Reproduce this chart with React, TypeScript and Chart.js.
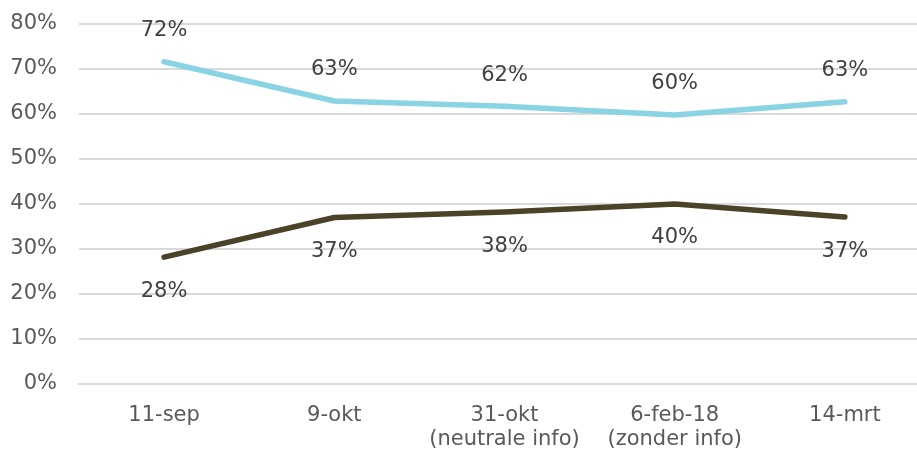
import React, { useEffect, useRef } from "react";
import { Chart, registerables } from "chart.js";

Chart.register(...registerables);

const categories: (string | string[])[] = [
  "11-sep",
  "9-okt",
  ["31-okt", "(neutrale info)"],
  ["6-feb-18", "(zonder info)"],
  "14-mrt",
];
const seriesBlue = [71.6, 62.9, 61.7, 59.8, 62.7];
const seriesDark = [28.2, 37.0, 38.2, 40.0, 37.1];
const yTicks = [0, 10, 20, 30, 40, 50, 60, 70, 80];

const FONT = "'DejaVu Sans', Verdana, sans-serif";
const FS = 21;

const labelPlugin = {
  id: "valueLabels",
  afterDatasetsDraw(chart: any) {
    const ctx = chart.ctx;
    ctx.save();
    ctx.font = `${FS}px ${FONT}`;
    ctx.fillStyle = "#404040";
    ctx.textAlign = "center";
    ctx.textBaseline = "middle";
    chart.data.datasets.forEach((ds: any, di: number) => {
      const meta = chart.getDatasetMeta(di);
      const offset = ds.labelOffset as number;
      meta.data.forEach((pt: any, i: number) => {
        const v = Math.round(ds.data[i]);
        ctx.fillText(`${v}%`, pt.x, pt.y + offset);
      });
    });
    ctx.restore();
  },
};

export default function App() {
  const ref = useRef<HTMLCanvasElement | null>(null);
  useEffect(() => {
    if (!ref.current) return;
    const chart = new Chart(ref.current, {
      type: "line",
      data: {
        labels: categories,
        datasets: [
          {
            data: seriesBlue,
            borderColor: "#89D3E4",
            borderWidth: 5.5,
            pointRadius: 0,
            borderCapStyle: "round",
            borderJoinStyle: "round",
            tension: 0,
            labelOffset: -31,
          } as any,
          {
            data: seriesDark,
            borderColor: "#4B4328",
            borderWidth: 5.5,
            pointRadius: 0,
            borderCapStyle: "round",
            borderJoinStyle: "round",
            tension: 0,
            labelOffset: 34,
          } as any,
        ],
      },
      options: {
        animation: false,
        responsive: false,
        maintainAspectRatio: false,
        layout: { padding: { top: 24, left: 0, right: 0, bottom: 0 } },
        plugins: { legend: { display: false }, tooltip: { enabled: false } },
        scales: {
          x: {
            offset: true,
            grid: { display: false, drawTicks: false },
            border: { display: true, color: "#d9d9d9", width: 2 },
            ticks: {
              color: "#595959",
              font: { family: FONT, size: FS, lineHeight: 1.12 },
              padding: 20,
              maxRotation: 0,
              autoSkip: false,
            },
            afterFit: (s: any) => {
              s.height = 66;
            },
          },
          y: {
            min: 0,
            max: 80,
            afterBuildTicks: (s: any) => {
              s.ticks = yTicks.map((v) => ({ value: v }));
            },
            grid: {
              color: "#d9d9d9",
              lineWidth: 2,
              drawTicks: true,
              tickLength: 22,
              tickColor: "rgba(0,0,0,0)",
            },
            border: { display: false },
            ticks: {
              color: "#595959",
              font: { family: FONT, size: FS },
              padding: 0,
              callback: (v: any) => `${v}%`,
            },
            afterFit: (s: any) => {
              s.width = 79;
            },
          },
        },
      },
      plugins: [labelPlugin],
    });
    return () => chart.destroy();
  }, []);
  return (
    <div
      style={{
        position: "absolute",
        left: 0,
        top: 0,
        width: 917,
        height: 450,
        overflow: "hidden",
        background: "#fff",
      }}
    >
      <canvas ref={ref} width={930} height={450} style={{ display: "block" }} />
    </div>
  );
}
